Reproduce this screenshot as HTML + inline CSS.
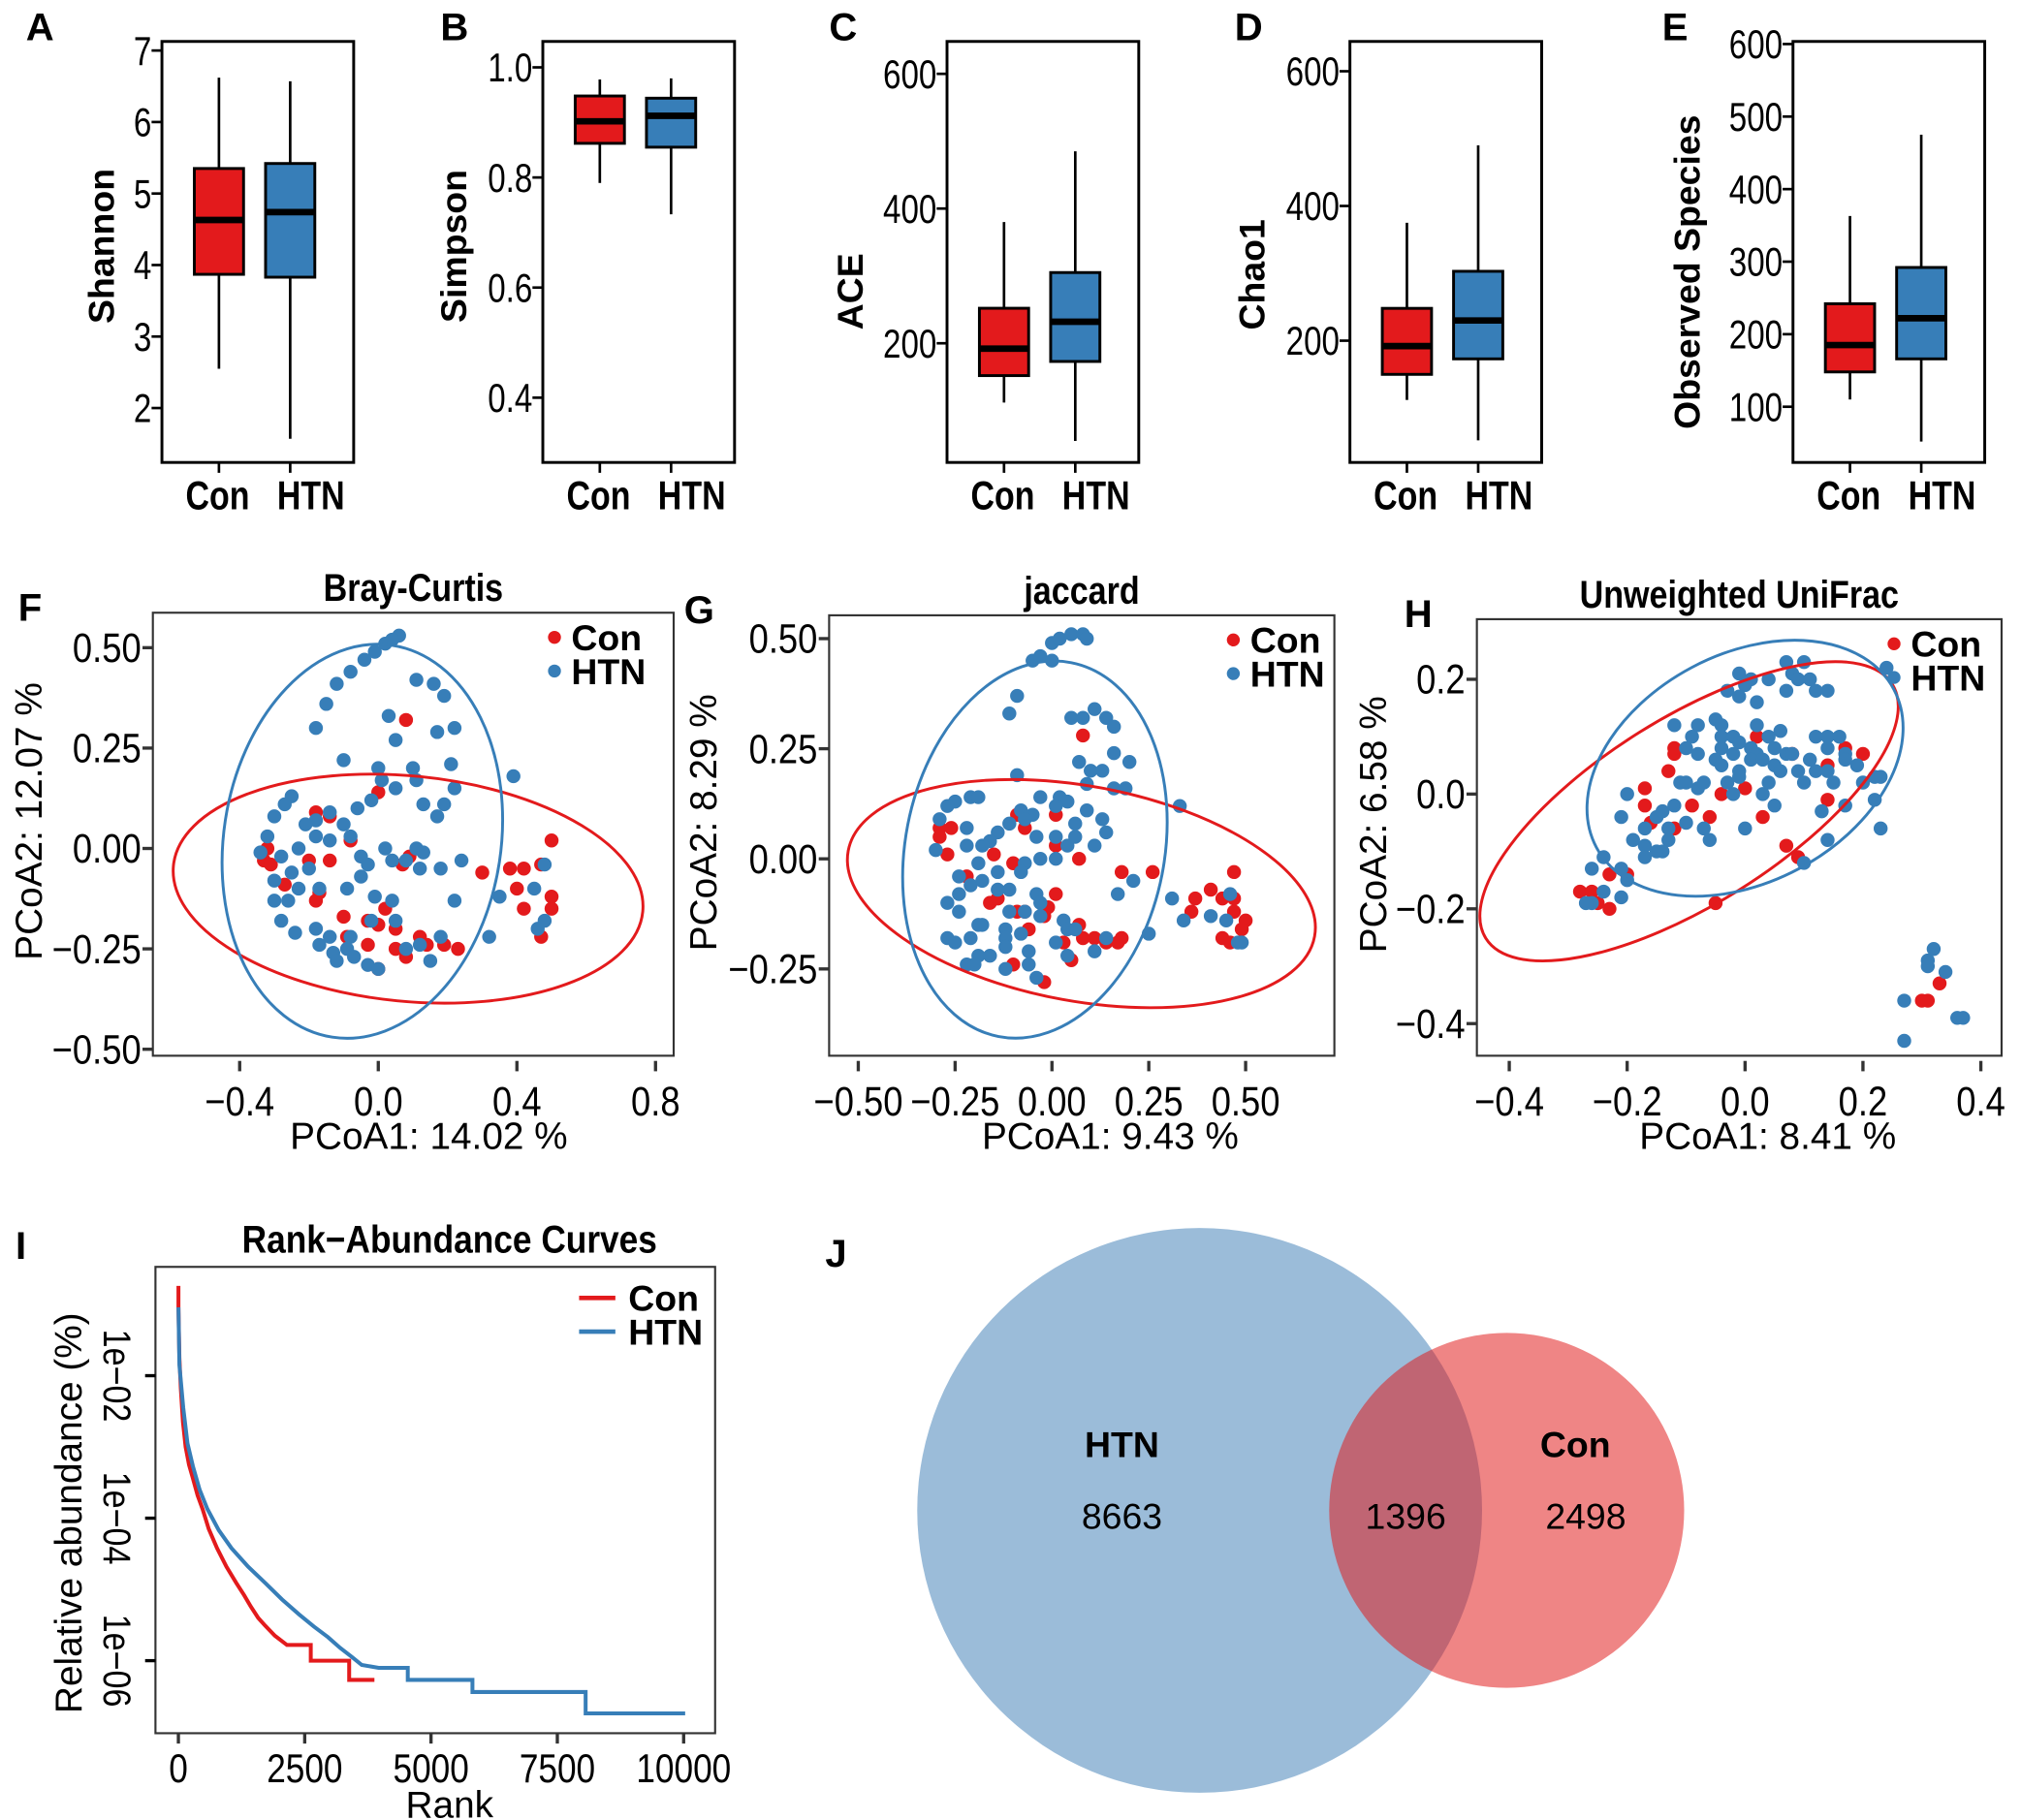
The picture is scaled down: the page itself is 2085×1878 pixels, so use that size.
<!DOCTYPE html>
<html><head><meta charset="utf-8"><style>
html,body{margin:0;padding:0;background:#fff;}
svg{display:block;}
text{font-family:"Liberation Sans",Arial,sans-serif;fill:#000;}
</style></head><body>
<svg id="fig" xmlns="http://www.w3.org/2000/svg" width="2085" height="1878" viewBox="0 0 1560 1405" preserveAspectRatio="none"></svg>
<script>
// ---------- data ----------
const boxCats = ['Con','HTN'];
// [min, q1, median, q3, max]
const shannonCon = [2.55,3.87,4.63,5.35,6.62];
const shannonHtn = [1.57,3.83,4.74,5.42,6.57];
const simpsonCon = [0.79,0.862,0.902,0.948,0.978];
const simpsonHtn = [0.733,0.855,0.912,0.944,0.98];
const aceCon = [112,152,192,252,380];
const aceHtn = [55,173,232,305,485];
const chaoCon = [112,150,192,248,375];
const chaoHtn = [52,173,230,303,490];
const obsCon = [110,148,185,242,363];
const obsHtn = [52,166,222,292,475];
const shannonTicks = [2,3,4,5,6,7];
const simpsonTicks = [0.4,0.6,0.8,1.0];
const simpsonTickLabels = ['0.4','0.6','0.8','1.0'];
const aceTicks = [200,400,600];
const chaoTicks = [200,400,600];
const obsTicks = [100,200,300,400,500,600];

const brayCon = [[0.08,0.32],[0.0,0.14],[-0.18,0.09],[-0.14,0.08],[-0.08,0.02],[-0.32,0.0],[-0.33,-0.03],[-0.31,-0.04],[-0.20,-0.03],[-0.14,-0.03],[0.09,-0.02],[0.07,-0.04],[0.38,-0.05],[0.30,-0.06],[0.42,-0.05],[0.47,-0.04],[0.50,0.02],[0.40,-0.10],[0.42,-0.15],[0.50,-0.12],[0.50,-0.15],[0.47,-0.22],[-0.18,-0.13],[-0.17,-0.11],[-0.27,-0.09],[-0.10,-0.17],[-0.03,-0.18],[0.0,-0.19],[0.02,-0.15],[0.05,-0.20],[0.12,-0.22],[0.14,-0.24],[0.19,-0.24],[0.23,-0.25],[-0.03,-0.24],[0.08,-0.27],[0.05,-0.25],[0.0,-0.30],[-0.09,-0.22]];
const brayHtn = [[0.06,0.53],[0.04,0.52],[0.02,0.51],[-0.01,0.49],[-0.04,0.47],[-0.08,0.44],[-0.12,0.41],[-0.15,0.36],[-0.18,0.30],[0.11,0.42],[0.16,0.41],[0.19,0.38],[0.03,0.33],[0.05,0.27],[0.17,0.29],[0.22,0.30],[0.21,0.21],[0.10,0.20],[0.0,0.20],[-0.1,0.22],[0.39,0.18],[0.22,0.15],[0.11,0.17],[0.01,0.17],[-0.02,0.12],[0.05,0.15],[0.13,0.11],[0.19,0.11],[0.17,0.08],[-0.06,0.10],[-0.14,0.09],[-0.10,0.06],[-0.18,0.07],[-0.21,0.06],[-0.25,0.13],[-0.27,0.11],[-0.30,0.08],[-0.32,0.03],[-0.34,-0.01],[-0.28,-0.02],[-0.23,0.0],[-0.18,0.03],[-0.14,0.02],[-0.08,0.03],[-0.05,-0.02],[0.02,0.0],[0.04,-0.03],[0.08,-0.03],[0.11,0.0],[0.13,-0.01],[-0.20,-0.05],[-0.25,-0.06],[-0.30,-0.08],[-0.26,-0.13],[-0.30,-0.13],[-0.23,-0.10],[-0.17,-0.10],[-0.09,-0.10],[-0.05,-0.07],[-0.03,-0.04],[-0.01,-0.12],[0.04,-0.13],[0.12,-0.05],[0.18,-0.05],[0.24,-0.03],[0.22,-0.13],[0.35,-0.12],[0.45,-0.10],[0.48,-0.04],[0.48,-0.18],[0.46,-0.20],[-0.28,-0.18],[-0.24,-0.21],[-0.18,-0.20],[-0.14,-0.22],[-0.08,-0.22],[-0.02,-0.18],[0.05,-0.18],[0.12,-0.24],[0.18,-0.22],[0.32,-0.22],[-0.17,-0.24],[-0.13,-0.26],[-0.09,-0.25],[-0.07,-0.27],[-0.03,-0.29],[0.0,-0.30],[0.08,-0.25],[0.15,-0.28],[-0.12,-0.28]];
const jacCon = [[0.08,0.28],[-0.09,0.10],[0.01,0.10],[-0.29,0.07],[-0.26,0.07],[-0.29,0.05],[-0.27,0.01],[-0.07,0.07],[0.01,0.03],[0.07,0.0],[-0.15,0.01],[-0.10,-0.01],[-0.22,-0.04],[-0.16,-0.10],[-0.14,-0.09],[-0.09,-0.12],[-0.07,-0.12],[0.01,-0.08],[-0.02,-0.13],[-0.01,-0.11],[-0.06,-0.16],[0.07,-0.15],[0.08,-0.18],[0.11,-0.18],[0.14,-0.19],[0.17,-0.19],[0.18,-0.18],[0.03,-0.19],[0.05,-0.23],[-0.10,-0.24],[-0.02,-0.28],[0.18,-0.03],[0.26,-0.03],[0.47,-0.03],[0.41,-0.07],[0.37,-0.09],[0.36,-0.12],[0.44,-0.09],[0.47,-0.09],[0.47,-0.12],[0.50,-0.14],[0.49,-0.16],[0.44,-0.18],[0.46,-0.19]];
const jacHtn = [[-0.05,0.45],[-0.03,0.46],[0.0,0.45],[0.0,0.49],[0.02,0.50],[0.05,0.51],[0.08,0.51],[0.09,0.50],[-0.09,0.37],[-0.11,0.33],[0.05,0.32],[0.08,0.32],[0.11,0.34],[0.14,0.32],[0.16,0.30],[0.16,0.24],[0.20,0.22],[0.07,0.22],[0.10,0.20],[0.13,0.20],[0.09,0.17],[0.16,0.16],[0.19,0.16],[0.33,0.12],[-0.09,0.19],[-0.25,0.13],[-0.21,0.14],[-0.19,0.14],[-0.27,0.12],[-0.29,0.09],[-0.22,0.07],[-0.08,0.11],[-0.03,0.14],[-0.05,0.10],[0.02,0.14],[0.04,0.13],[0.01,0.12],[0.09,0.11],[0.13,0.09],[0.14,0.06],[0.06,0.08],[-0.14,0.06],[-0.16,0.04],[-0.11,0.08],[-0.07,0.09],[-0.04,0.05],[0.01,0.05],[0.04,0.03],[0.06,0.05],[0.11,0.03],[-0.22,0.03],[-0.18,0.03],[-0.30,0.02],[-0.19,-0.01],[-0.07,-0.01],[-0.03,0.0],[-0.14,-0.03],[-0.08,-0.03],[0.01,0.0],[-0.24,-0.04],[-0.21,-0.06],[-0.18,-0.05],[-0.14,-0.07],[-0.11,-0.07],[-0.24,-0.08],[-0.27,-0.10],[-0.04,-0.08],[-0.03,-0.10],[0.17,-0.08],[0.21,-0.05],[-0.24,-0.12],[-0.11,-0.12],[-0.07,-0.12],[-0.19,-0.15],[-0.18,-0.15],[-0.12,-0.16],[-0.03,-0.13],[0.03,-0.14],[0.04,-0.16],[0.06,-0.16],[-0.27,-0.18],[-0.25,-0.19],[-0.21,-0.18],[-0.12,-0.18],[-0.08,-0.17],[0.01,-0.19],[0.14,-0.18],[0.25,-0.17],[-0.12,-0.20],[-0.06,-0.21],[0.11,-0.21],[-0.19,-0.22],[-0.16,-0.22],[-0.22,-0.24],[-0.20,-0.24],[-0.12,-0.25],[-0.06,-0.24],[-0.04,-0.27],[0.04,-0.22],[0.31,-0.09],[0.34,-0.14],[0.41,-0.13],[0.45,-0.14],[0.46,-0.08],[0.48,-0.19],[0.49,-0.19]];
const uniCon = [[0.02,0.10],[-0.12,0.08],[-0.12,0.07],[0.08,0.07],[0.17,0.08],[0.20,0.07],[0.14,0.05],[-0.13,0.04],[-0.17,0.01],[-0.17,-0.02],[-0.16,-0.05],[-0.12,-0.06],[-0.04,0.0],[0.0,0.01],[-0.09,-0.02],[-0.06,-0.04],[0.14,-0.01],[0.03,-0.04],[0.07,-0.09],[0.09,-0.11],[-0.05,-0.19],[-0.28,-0.17],[-0.26,-0.17],[-0.25,-0.19],[-0.23,-0.20],[-0.23,-0.14],[-0.20,-0.14],[0.33,-0.33],[0.30,-0.36],[0.31,-0.36]];
const uniHtn = [[0.07,0.23],[0.10,0.23],[-0.01,0.21],[0.01,0.20],[0.04,0.20],[0.08,0.21],[0.09,0.20],[0.11,0.20],[0.12,0.18],[0.14,0.18],[0.07,0.18],[0.0,0.19],[-0.03,0.18],[-0.01,0.17],[0.02,0.16],[0.24,0.22],[-0.12,0.12],[-0.08,0.12],[-0.05,0.13],[-0.04,0.12],[0.02,0.12],[0.04,0.10],[0.06,0.11],[-0.09,0.10],[-0.10,0.08],[-0.08,0.07],[-0.04,0.10],[-0.02,0.10],[-0.01,0.09],[-0.04,0.08],[-0.02,0.07],[0.01,0.08],[0.02,0.07],[0.05,0.08],[0.07,0.07],[0.08,0.07],[-0.05,0.06],[-0.04,0.05],[-0.01,0.04],[0.01,0.06],[0.03,0.06],[0.05,0.05],[0.11,0.06],[0.12,0.10],[0.14,0.10],[0.16,0.10],[0.14,0.08],[0.17,0.07],[0.17,0.06],[0.19,0.05],[0.09,0.04],[0.10,0.02],[0.12,0.04],[0.14,0.04],[0.15,0.02],[0.20,0.02],[0.22,0.03],[0.23,0.03],[-0.11,0.02],[-0.10,0.02],[-0.08,0.01],[-0.07,0.02],[-0.03,0.02],[-0.01,0.03],[-0.02,0.0],[0.03,0.0],[0.06,0.04],[0.04,0.02],[0.22,-0.01],[0.23,-0.06],[0.13,-0.03],[0.17,-0.02],[0.05,-0.02],[0.0,-0.06],[-0.20,0.0],[-0.21,-0.04],[-0.15,-0.04],[-0.14,-0.03],[-0.12,-0.02],[-0.10,-0.05],[-0.17,-0.06],[-0.13,-0.06],[-0.13,-0.08],[-0.07,-0.06],[-0.06,-0.08],[-0.19,-0.08],[-0.17,-0.09],[-0.17,-0.11],[-0.15,-0.10],[-0.14,-0.10],[-0.24,-0.11],[-0.21,-0.13],[-0.20,-0.15],[-0.26,-0.13],[-0.24,-0.17],[-0.26,-0.19],[-0.27,-0.19],[-0.21,-0.18],[0.14,-0.08],[0.10,-0.12],[0.32,-0.27],[0.31,-0.29],[0.31,-0.30],[0.34,-0.31],[0.27,-0.36],[0.27,-0.43],[0.36,-0.39],[0.37,-0.39]];

// rank-abundance: rank and log10(relative abundance)
const conRank = [1,1,20,48,90,143,210,287,380,478,600,764,950,1146,1300,1433,1580,1719,1910,2149,2620,2620,3380,3380,3880];
const conLogAbund = [-0.74,-1.04,-1.75,-2.18,-2.65,-3.0,-3.25,-3.44,-3.68,-3.87,-4.15,-4.42,-4.68,-4.91,-5.08,-5.24,-5.4,-5.51,-5.65,-5.78,-5.78,-6.0,-6.0,-6.27,-6.27];
const htnRank = [1,20,96,180,287,420,573,800,1050,1380,1719,2050,2387,2680,2960,3200,3438,3629,3963,4540,4540,5820,5820,8060,8060,10030];
const htnLogAbund = [-1.04,-1.85,-2.45,-2.95,-3.27,-3.6,-3.87,-4.17,-4.42,-4.68,-4.91,-5.14,-5.35,-5.52,-5.67,-5.82,-5.95,-6.06,-6.1,-6.1,-6.27,-6.27,-6.44,-6.44,-6.74,-6.74];
const rankTicks = [0,2500,5000,7500,10000];
const abundTicks = [-2,-4,-6];
const abundTickLabels = ['1e\u221202','1e\u221204','1e\u221206'];

const vennLabels = ['HTN','Con'];
const vennCounts = [8663,1396,2498];

// ---------- helpers ----------
const NS='http://www.w3.org/2000/svg';
const svg=document.getElementById('fig');
const RED='#e31a1c', BLUE='#377eb8';
function mk(tag, parent){const e=document.createElementNS(NS,tag);(parent||svg).appendChild(e);return e;}
function grp(name){const g=mk('g');


return g;}
function line(p,x1,y1,x2,y2,stroke,w,name){const e=mk('line',p);
e.setAttribute('x1',x1);e.setAttribute('y1',y1);e.setAttribute('x2',x2);e.setAttribute('y2',y2);
e.setAttribute('stroke',stroke);e.setAttribute('stroke-width',w);


return e;}
function txt(p,x,y,s,size,bold,anchor,narrow,rot,name){
 const e=mk('text',p);
 e.textContent=s;
 e.setAttribute('font-size',size);
 if(bold) e.setAttribute('font-weight','bold');
 e.setAttribute('text-anchor',anchor||'start');
 let tr='translate('+x+','+y+')';
 if(rot) tr+=' rotate('+rot+')';
 if(narrow) tr+=' scale('+narrow+',1)';
 e.setAttribute('transform',tr);
 
 
 return e;}
function rect(p,x,y,w,h,fill,stroke,sw,name){const e=mk('rect',p);
e.setAttribute('x',x);e.setAttribute('y',y);e.setAttribute('width',w);e.setAttribute('height',h);
e.setAttribute('fill',fill);e.setAttribute('stroke',stroke);e.setAttribute('stroke-width',sw);


return e;}

// ---------- box plots ----------
function boxPanel(o){
 const g=grp(o.name);
 const sy=v=>o.py0+(v-o.v0)*(o.py1-o.py0)/(o.v1-o.v0);
 rect(g,o.x,32,148,325,'none','#000',2.2,'plot-frame');
 o.ticks.forEach((t,i)=>{
  line(g,o.x-8,sy(t),o.x,sy(t),'#000',2,'y-tick');
  txt(g,o.x-8,sy(t)+11,o.labels?o.labels[i]:String(t),31,false,'end',0.8,0,'y-tick-label');
 });
 const sets=[o.con,o.htn], cols=[RED,BLUE], offs=[44,99], labOffs=[43,115];
 sets.forEach((d,i)=>{
  const cx=o.x+offs[i];
  line(g,cx,sy(d[0]),cx,sy(d[1]),'#000',2,'whisker-'+boxCats[i].toLowerCase());
  line(g,cx,sy(d[3]),cx,sy(d[4]),'#000',2,'whisker-'+boxCats[i].toLowerCase());
  rect(g,cx-19,sy(d[3]),38,sy(d[1])-sy(d[3]),cols[i],'#000',2.2,'box-'+boxCats[i].toLowerCase());
  line(g,cx-19,sy(d[2]),cx+19,sy(d[2]),'#000',5,'median-'+boxCats[i].toLowerCase());
  line(g,cx,357,cx,365,'#000',2,'x-tick');
  txt(g,o.x+labOffs[i],393,boxCats[i],31,true,'middle',0.82,0,'x-label-'+boxCats[i].toLowerCase());
 });
 txt(g,o.labX,o.labY,o.ylab,28,true,'middle',0,-90,'y-axis-title');
 txt(g,o.letX,31,o.letter,30,true,'start',0,0,'panel-letter');
}
boxPanel({name:'panel-a-shannon',x:125,v0:2,py0:315,v1:7,py1:39,ticks:shannonTicks,con:shannonCon,htn:shannonHtn,ylab:'Shannon',labX:88,labY:190,letter:'A',letX:20});
boxPanel({name:'panel-b-simpson',x:419,v0:0.4,py0:307,v1:1.0,py1:52,ticks:simpsonTicks,labels:simpsonTickLabels,con:simpsonCon,htn:simpsonHtn,ylab:'Simpson',labX:360,labY:190,letter:'B',letX:340});
boxPanel({name:'panel-c-ace',x:731,v0:200,py0:265,v1:600,py1:57,ticks:aceTicks,con:aceCon,htn:aceHtn,ylab:'ACE',labX:666,labY:225,letter:'C',letX:640});
boxPanel({name:'panel-d-chao1',x:1042,v0:200,py0:263,v1:600,py1:55,ticks:chaoTicks,con:chaoCon,htn:chaoHtn,ylab:'Chao1',labX:976,labY:212,letter:'D',letX:953});
boxPanel({name:'panel-e-observed',x:1384,v0:100,py0:314,v1:600,py1:34,ticks:obsTicks,con:obsCon,htn:obsHtn,ylab:'Observed Species',labX:1312,labY:210,letter:'E',letX:1283});

// ---------- PCoA scatters ----------
function scatterPanel(o){
 const g=grp(o.name);
 const sx=v=>o.x0+v*o.kx, sy=v=>o.y0-v*o.ky;
 rect(g,o.bx,o.by,o.bw,o.bh,'none','#333',1.6,'plot-frame');
 o.xt.forEach((t,i)=>{line(g,sx(t),o.by+o.bh+4,sx(t),o.by+o.bh+12,'#333',2.5,'x-tick');
  txt(g,sx(t),o.by+o.bh+46,o.xtl[i],32,false,'middle',0.85,0,'x-tick-label');});
 o.yt.forEach((t,i)=>{line(g,o.bx-8,sy(t),o.bx,sy(t),'#333',2.5,'y-tick');
  txt(g,o.bx-9,sy(t)+11,o.ytl[i],32,false,'end',0.85,0,'y-tick-label');});
 const pts=grp('points');g.appendChild(pts);
 o.con.forEach(p=>{const c=mk('circle',pts);c.setAttribute('cx',sx(p[0]));c.setAttribute('cy',sy(p[1]));c.setAttribute('r',5.4);c.setAttribute('fill',RED);
  
  });
 o.htn.forEach(p=>{const c=mk('circle',pts);c.setAttribute('cx',sx(p[0]));c.setAttribute('cy',sy(p[1]));c.setAttribute('r',5.4);c.setAttribute('fill',BLUE);
  
  });
 o.ells.forEach(el=>{const e=mk('ellipse',g);const cx=sx(el.c[0]),cy=sy(el.c[1]);
  e.setAttribute('cx',cx);e.setAttribute('cy',cy);e.setAttribute('rx',el.rx);e.setAttribute('ry',el.ry);
  e.setAttribute('transform','rotate('+el.a+' '+cx+' '+cy+')');
  e.setAttribute('fill','none');e.setAttribute('stroke',el.col);e.setAttribute('stroke-width',2.2);
  
  });
 const lg=grp('legend');g.appendChild(lg);
 [['Con',RED],['HTN',BLUE]].forEach((L,i)=>{const c=mk('circle',lg);c.setAttribute('cx',o.lx);c.setAttribute('cy',o.by+19+i*26);c.setAttribute('r',5);c.setAttribute('fill',L[1]);
  
  
  txt(lg,o.lx+13,o.by+29+i*26,L[0],28,true,'start',0,0,'legend-label-'+L[0].toLowerCase());});
 txt(g,o.bx+o.bw/2,o.by-9,o.title,30,true,'middle',0.85,0,'chart-title');
 txt(g,o.bx+o.bw/2-(o.bx===118?-12:-22),o.by+o.bh+72,o.xlab,29,false,'middle',0,0,'x-axis-title');
 txt(g,o.ylx,o.by+o.bh/2-10,o.ylab,29,false,'middle',0,-90,'y-axis-title');
 txt(g,o.letX,o.by+6,o.letter,30,true,'start',0,0,'panel-letter');
}
scatterPanel({name:'panel-f-bray-curtis',bx:118,by:473,bw:402,bh:342,x0:292,kx:267.5,y0:655,ky:310,
 xt:[-0.4,0,0.4,0.8],xtl:['\u22120.4','0.0','0.4','0.8'],yt:[0.5,0.25,0,-0.25,-0.5],ytl:['0.50','0.25','0.00','\u22120.25','\u22120.50'],
 con:brayCon,htn:brayHtn,ells:[{c:[0.086,-0.10],rx:182,ry:87,a:5.6,col:RED,nm:'ellipse-con'},{c:[-0.046,0.018],rx:107,ry:153,a:8.7,col:BLUE,nm:'ellipse-htn'}],
 lx:428,title:'Bray-Curtis',xlab:'PCoA1:  14.02 %',ylab:'PCoA2:  12.07 %',ylx:32,letter:'F',letX:14});
scatterPanel({name:'panel-g-jaccard',bx:640,by:475,bw:390,bh:340,x0:812,kx:299,y0:663,ky:340,
 xt:[-0.5,-0.25,0,0.25,0.5],xtl:['\u22120.50','\u22120.25','0.00','0.25','0.50'],yt:[0.5,0.25,0,-0.25],ytl:['0.50','0.25','0.00','\u22120.25'],
 con:jacCon,htn:jacHtn,ells:[{c:[0.076,-0.079],rx:183,ry:83,a:10.4,col:RED,nm:'ellipse-con'},{c:[-0.044,0.021],rx:100,ry:147,a:11,col:BLUE,nm:'ellipse-htn'}],
 lx:952,title:'jaccard',xlab:'PCoA1:  9.43 %',ylab:'PCoA2:  8.29 %',ylx:553,letter:'G',letX:528});
scatterPanel({name:'panel-h-unweighted-unifrac',bx:1140,by:478,bw:405,bh:337,x0:1347,kx:455,y0:613,ky:443,
 xt:[-0.4,-0.2,0,0.2,0.4],xtl:['\u22120.4','\u22120.2','0.0','0.2','0.4'],yt:[0.2,0,-0.2,-0.4],ytl:['0.2','0.0','\u22120.2','\u22120.4'],
 con:uniCon,htn:uniHtn,ells:[{c:[-0.095,-0.030],rx:185,ry:72,a:-32,col:RED,nm:'ellipse-con'},{c:[0.0,0.045],rx:130,ry:88,a:-28,col:BLUE,nm:'ellipse-htn'}],
 lx:1462,title:'Unweighted UniFrac',xlab:'PCoA1:  8.41 %',ylab:'PCoA2:  6.58 %',ylx:1070,letter:'H',letX:1084});

// ---------- rank abundance ----------
(function(){
 const g=grp('panel-i-rank-abundance');
 const sx=r=>137.7+r*0.039, sy=l=>1172-(l+4)*55;
 rect(g,120,978,432,360,'none','#333',1.6,'plot-frame');
 rankTicks.forEach(t=>{line(g,sx(t),1338,sx(t),1346,'#333',2.5,'x-tick');
  txt(g,sx(t),1376,String(t),31,false,'middle',0.85,0,'x-tick-label');});
 abundTicks.forEach((t,i)=>{line(g,112,sy(t),120,sy(t),'#000',2.5,'y-tick');
  txt(g,80,sy(t),abundTickLabels[i],30,false,'middle',0.85,90,'y-tick-label');});
 [[conRank,conLogAbund,RED,'line-con'],[htnRank,htnLogAbund,BLUE,'line-htn']].forEach(s=>{
  const p=mk('polyline',g);
  p.setAttribute('points',s[0].map((r,i)=>sx(r)+','+sy(s[1][i])).join(' '));
  p.setAttribute('fill','none');p.setAttribute('stroke',s[2]);p.setAttribute('stroke-width',3);
  
  
 });
 [['Con',RED],['HTN',BLUE]].forEach((L,i)=>{line(g,447,1002+i*26,475,1002+i*26,L[1],3.5,'legend-line-'+L[0].toLowerCase());
  txt(g,485,1012+i*26,L[0],28,true,'start',0,0,'legend-label-'+L[0].toLowerCase());});
 txt(g,347,967,'Rank\u2212Abundance Curves',30,true,'middle',0.88,0,'chart-title');
 txt(g,347,1403,'Rank',29,false,'middle',0,0,'x-axis-title');
 txt(g,63,1168,'Relative abundance (%)',29,false,'middle',0,-90,'y-axis-title');
 txt(g,12,972,'I',30,true,'start',0,0,'panel-letter');
})();

// ---------- venn ----------
(function(){
 const g=grp('panel-j-venn');
 const b=mk('circle',g);b.setAttribute('cx',926);b.setAttribute('cy',1166);b.setAttribute('r',218);b.setAttribute('fill','#9bbcd9');
 
 
 const r=mk('circle',g);r.setAttribute('cx',1163);r.setAttribute('cy',1166);r.setAttribute('r',137);r.setAttribute('fill','#e11919');r.setAttribute('fill-opacity',0.53);
 
 
 txt(g,866,1125,vennLabels[0],28,true,'middle',0,0,'venn-label-htn');
 txt(g,1216,1125,vennLabels[1],28,true,'middle',0,0,'venn-label-con');
 txt(g,866,1180,String(vennCounts[0]),28,false,'middle',0,0,'venn-count-htn-only');
 txt(g,1085,1180,String(vennCounts[1]),28,false,'middle',0,0,'venn-count-shared');
 txt(g,1224,1180,String(vennCounts[2]),28,false,'middle',0,0,'venn-count-con-only');
 txt(g,637,978,'J',30,true,'start',0,0,'panel-letter');
})();
</script>
</body></html>
